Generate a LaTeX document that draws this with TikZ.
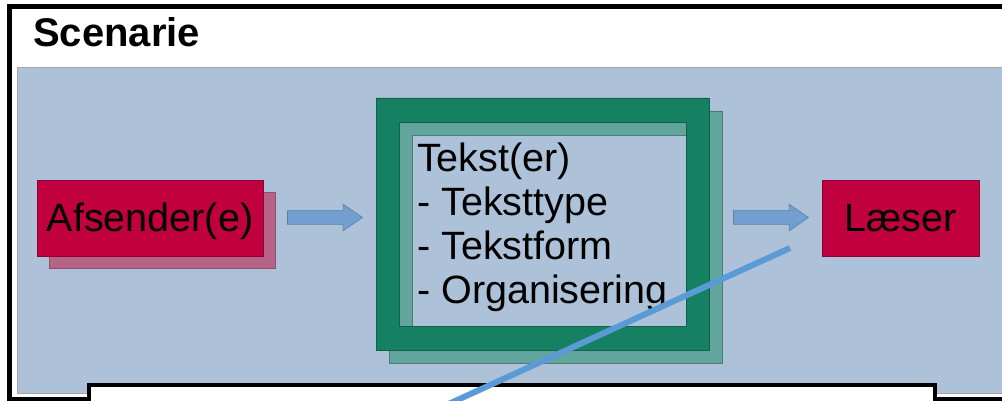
\documentclass[tikz,border=0pt]{standalone}
\usepackage{fontspec}
\setmainfont{Liberation Sans}
\usetikzlibrary{shapes.arrows,shadows}
\definecolor{bgblue}{HTML}{ADC1D8}
\definecolor{boxred}{HTML}{C0003F}
\definecolor{shred}{HTML}{B66388}
\definecolor{dgreen}{HTML}{168063}
\definecolor{lgreen}{HTML}{62A59C}
\definecolor{arrblue}{HTML}{729FCF}
\definecolor{arredge}{HTML}{5A7FA8}
\definecolor{lineblue}{HTML}{5B9BD5}
\begin{document}
\begin{tikzpicture}[x=1pt,y=-1pt,
  big/.style={font=\fontsize{39.5}{44}\selectfont},
  redbox/.style={rectangle, fill=boxred, draw=boxred!75!black, line width=0.6pt, inner sep=0pt, text height=28pt, text depth=0pt, big},
  blockarrow/.style={single arrow, fill=arrblue, draw=arredge, line width=0.6pt, inner xsep=0pt, inner ysep=6.5pt, minimum height=75pt, single arrow head extend=6.5pt, single arrow tip angle=69, single arrow head indent=0pt},
  framefill/.style={even odd rule, line width=0.6pt},
]
\useasboundingbox (0,0) rectangle (1002,401);
% outer frame and background
\draw[line width=5pt] (9.5,6.5) rectangle (1015,399);
\draw[fill=bgblue, draw=gray!70, line width=0.8pt] (17,67) rectangle (1015,393);
\node[anchor=base west, font=\bfseries\fontsize{40}{44}\selectfont, inner sep=0pt] (title) at (33,47) {Scenarie};
% sender
\node[redbox, minimum width=226pt, minimum height=76pt,
  copy shadow={shadow xshift=12.5pt, shadow yshift=-12.5pt, fill=shred, draw=shred!80!black}] (afs) at (150,218) {Afsender(e)};
% arrows
\node[blockarrow, anchor=tip] (a1) at (363,217.5) {};
\node[blockarrow, anchor=tip] (a2) at (809,217.5) {};
% green frame with shadow
\path[framefill, fill=lgreen, draw=lgreen!75!black] (389,111) rectangle (722,363) (412,135) rectangle (699,339);
\path[framefill, fill=dgreen, draw=dgreen!75!black] (376,98) rectangle (709,350) (399,122) rectangle (686,326);
\node[big, align=left, anchor=base west, inner sep=0pt] (txt) at (417,303) {Tekst(er)\\- Teksttype\\- Tekstform\\- Organisering};
% reader
\node[redbox, minimum width=157pt, minimum height=76pt] (laeser) at (900.5,218) {Læser};
% callout box
\node[draw=black, fill=white, line width=4pt, inner sep=0pt, minimum width=846pt, minimum height=60pt, anchor=north west] (callout) at (87,383) {};
% pointer line
\coordinate (ls) at (790,248);
\coordinate (le) at (442,407);
\draw[lineblue, line width=6pt] (ls) -- (le);
\end{tikzpicture}
\end{document}
